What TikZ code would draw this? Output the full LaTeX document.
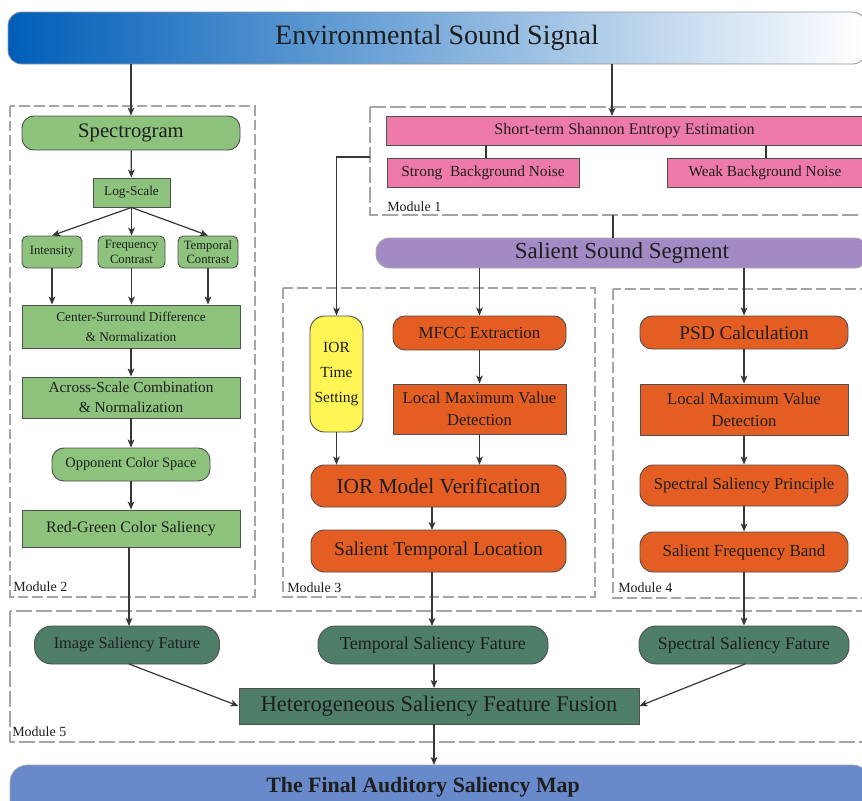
\documentclass[tikz,border=0pt]{standalone}
\usepackage{fontspec}
\setmainfont{Liberation Serif}
\usetikzlibrary{arrows.meta}

\definecolor{txt}{RGB}{30,30,30}
\definecolor{edge}{RGB}{80,80,80}
\definecolor{arrc}{RGB}{55,55,55}
\definecolor{dashc}{RGB}{165,165,165}
\definecolor{bannerblue}{RGB}{0,94,184}
\definecolor{gfill}{RGB}{141,195,125}
\definecolor{pfill}{RGB}{238,122,170}
\definecolor{vfill}{RGB}{162,138,196}
\definecolor{ofill}{RGB}{228,94,36}
\definecolor{yfill}{RGB}{255,245,85}
\definecolor{dgfill}{RGB}{78,126,104}
\definecolor{bfill}{RGB}{104,138,202}

\begin{document}
\begin{tikzpicture}[x=0.75pt,y=-0.75pt,
  every node/.style={inner sep=0pt, text=txt, align=center},
  sz/.style 2 args={minimum width=#1*0.75pt, minimum height=#2*0.75pt},
  fs/.style 2 args={font=\fontsize{#1}{#2}\selectfont},
  gbox/.style={draw=edge, fill=gfill, line width=0.7pt},
  pbox/.style={draw=edge, fill=pfill, line width=0.7pt},
  obox/.style={draw=edge, fill=ofill, line width=0.7pt},
  dgbox/.style={draw=edge, fill=dgfill, line width=0.7pt, rounded corners=13pt},
  arr/.style={draw=arrc, line width=0.9pt, -{Stealth[length=6pt,width=5pt,inset=1.5pt]}},
  ln/.style={draw=arrc, line width=0.9pt},
  module/.style={draw=dashc, line width=1pt, dash pattern=on 8pt off 3pt},
  modulelong/.style={draw=dashc, line width=1pt, dash pattern=on 12pt off 3pt},
  mlabel/.style={anchor=base west, fs={10.5}{12}}
]
\useasboundingbox (0,0) rectangle (862,800);
\clip (0,0) rectangle (862,800);

% ---- module frames ----
\draw[module] (10,106) rectangle (255,597);
\draw[modulelong] (370,107) rectangle (880,215);
\draw[module] (283,288) rectangle (595,597);
\draw[module] (613,289) rectangle (880,598);
\draw[modulelong] (10,611) rectangle (880,742);

\node[mlabel] (lab2) at (13,591) {Module 2};
\node[mlabel] (lab1) at (387,211) {Module 1};
\node[mlabel] (lab3) at (287,592) {Module 3};
\node[mlabel] (lab4) at (618,592) {Module 4};
\node[mlabel] (lab5) at (12,736) {Module 5};

% ---- input banner ----
\node[sz={858}{52}, draw=edge!60, line width=0.6pt, rounded corners=10pt,
      left color=bannerblue, right color=white, fs={21}{24}]
      (sig) at (437,38) {Environmental Sound Signal};

% ---- module 2: image saliency ----
\node[gbox, rounded corners=9pt, sz={218}{34}, fs={15.5}{18}] (spec) at (131,133) {Spectrogram};
\node[gbox, sz={77}{29}, fs={10}{12}] (logs) at (131.5,192.5) {Log-Scale};
\node[gbox, rounded corners=4pt, sz={60}{32}, fs={9.5}{11}] (inten) at (52,252) {Intensity};
\node[gbox, rounded corners=4pt, sz={67}{32}, fs={9.5}{11}] (freq) at (131.5,252) {Frequency\\Contrast};
\node[gbox, rounded corners=4pt, sz={60}{32}, fs={9.5}{11}] (tempc) at (208,252) {Temporal\\Contrast};
\node[gbox, sz={218}{43}, fs={10}{15}] (csd) at (131,326.5) {Center-Surround Difference\\\& Normalization};
\node[gbox, sz={218}{41}, fs={11.5}{15}] (asc) at (131,397.5) {Across-Scale Combination\\\& Normalization};
\node[gbox, rounded corners=9pt, sz={158}{33}, fs={10.8}{13}] (ocs) at (131,464.5) {Opponent Color Space};
\node[gbox, sz={218}{37}, fs={12}{14}] (rgc) at (131,528.5) {Red-Green Color Saliency};

% ---- module 1: entropy estimation ----
\node[pbox, sz={476}{29}, fs={12.1}{14}] (sse) at (624.5,130.5) {Short-term Shannon Entropy Estimation};
\node[pbox, sz={192}{29}, fs={11.5}{14}] (strong) at (483,173) {Strong\ \ Background Noise};
\node[pbox, sz={196}{29}, fs={11.5}{14}] (weak) at (765,173) {Weak Background Noise};
\coordinate (m1w) at (370,157);
\coordinate (m1s) at (613,215);

% ---- salient segment ----
\node[draw=edge!50, line width=0.6pt, fill=vfill, rounded corners=10pt, sz={492}{30}, fs={17.2}{20}]
      (seg) at (622,253) {Salient Sound Segment};

% ---- module 3: temporal saliency ----
\node[draw=edge, line width=0.7pt, fill=yfill, rounded corners=11pt, sz={53}{116}, fs={11.6}{19}]
      (iort) at (336.5,374) {IOR\\Time\\Setting};
\node[obox, rounded corners=9pt, sz={173}{34}, fs={12.7}{15}] (mfcc) at (479.5,333) {MFCC Extraction};
\node[obox, sz={173}{50}, fs={12.5}{16.5}] (lmv3) at (479.5,409) {Local Maximum Value\\Detection};
\node[obox, rounded corners=10pt, sz={255}{42}, fs={16}{18}] (iorm) at (438.5,486) {IOR Model Verification};
\node[obox, rounded corners=10pt, sz={255}{42}, fs={14.7}{17}] (stl) at (438.5,551) {Salient Temporal Location};

% ---- module 4: spectral saliency ----
\node[obox, rounded corners=9pt, sz={208}{33}, fs={14.5}{17}] (psd) at (744,332.5) {PSD Calculation};
\node[obox, sz={208}{51}, fs={12.5}{16.5}] (lmv4) at (744,409.5) {Local Maximum Value\\Detection};
\node[obox, rounded corners=10pt, sz={208}{41}, fs={12.5}{15}] (ssp) at (744,485.5) {Spectral Saliency Principle};
\node[obox, rounded corners=10pt, sz={208}{40}, fs={12.7}{15}] (sfb) at (744,552) {Salient Frequency Band};

% ---- module 5: fusion ----
\node[dgbox, sz={185}{38}, fs={12.2}{14}] (isf) at (127,645) {Image Saliency Fature};
\node[dgbox, sz={230}{38}, fs={13.5}{16}] (tsf) at (433,645) {Temporal Saliency Fature};
\node[dgbox, sz={210}{38}, fs={13.2}{16}] (spf) at (744,645) {Spectral Saliency Fature};
\node[draw=edge, line width=0.7pt, fill=dgfill, sz={400}{36}, fs={16.8}{19}] (fus) at (439,706) {Heterogeneous Saliency Feature Fusion};

% ---- output ----
\node[draw=edge!50, line width=0.6pt, fill=bfill, rounded corners=13pt, sz={860}{60}] (outmap) at (440,795) {};
\node[font={\fontsize{16.4}{19}\selectfont\bfseries}] (outtxt) at (423,787) {The Final Auditory Saliency Map};

% ---- connectors ----
\draw[arr] (sig.south -| spec.north) -- (spec.north);
\draw[arr] (sig.south -| 612,0) -- (612,116);
\draw[arr] (spec) -- (logs);
\draw[arr] (logs.south) -- (inten.north);
\draw[arr] (logs.south) -- (freq.north);
\draw[arr] (logs.south) -- (tempc.north);
\draw[arr] (inten.south) -- (inten.south |- csd.north);
\draw[arr] (freq.south) -- (freq.south |- csd.north);
\draw[arr] (tempc.south) -- (tempc.south |- csd.north);
\draw[arr] (csd) -- (asc);
\draw[arr] (asc) -- (ocs);
\draw[arr] (ocs) -- (rgc);
\draw[arr] (rgc.south -| 129,0) -- (129,626);

\draw[ln] (486,145) -- (486,158);
\draw[ln] (766,145) -- (766,158);
\draw[arr] (m1w) -| (iort.north);
\draw[ln] (m1s) -- (m1s |- seg.north);

\draw[arr] (seg.south -| mfcc.north) -- (mfcc.north);
\draw[arr] (seg.south -| psd.north) -- (psd.north);

\draw[arr] (mfcc) -- (lmv3);
\draw[arr] (iort.south) -- (iort.south |- iorm.north);
\draw[arr] (lmv3.south) -- (lmv3.south |- iorm.north);
\draw[arr] (iorm.south -| 432,0) -- (432,530);
\draw[arr] (stl.south -| 432,0) -- (432,626);

\draw[arr] (psd) -- (lmv4);
\draw[arr] (lmv4) -- (ssp);
\draw[arr] (ssp) -- (sfb);
\draw[arr] (sfb) -- (spf);

\draw[arr] (129,664) -- (fus.west);
\draw[arr] (tsf.south -| 434,0) -- (434,688);
\draw[arr] (745,664) -- (fus.east);
\draw[arr] (fus.south -| 434,0) -- (434,765);
\end{tikzpicture}
\end{document}
